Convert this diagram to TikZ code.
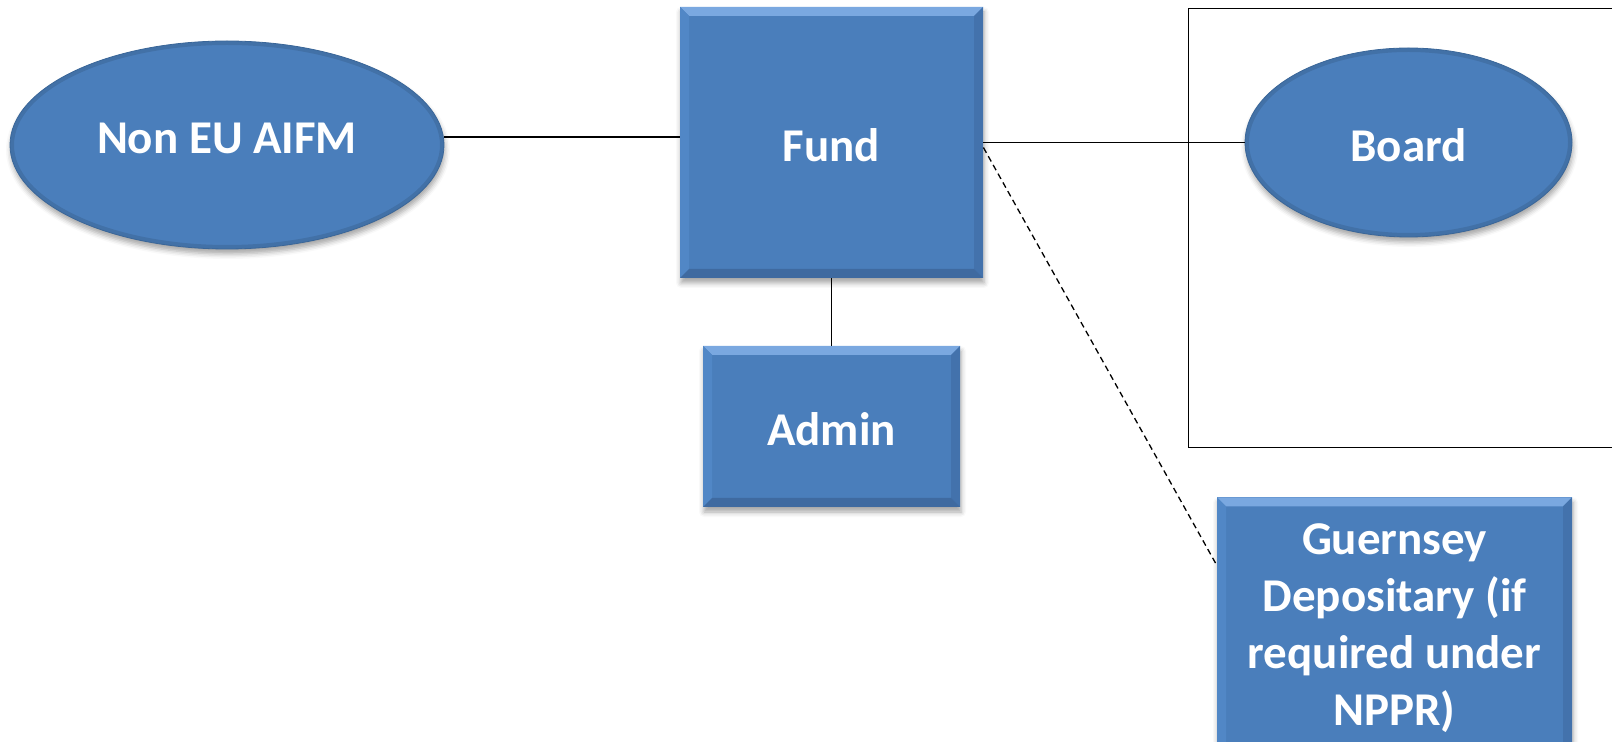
\documentclass[tikz,border=0pt]{standalone}
\usepackage{fontspec}
\setmainfont{Carlito}
\usetikzlibrary{shapes.geometric,shadows.blur,calc}

\definecolor{shapeblue}{HTML}{4A7EBB}
\definecolor{bevtop}{HTML}{7AA8E0}
\definecolor{bevleft}{HTML}{5187C6}
\definecolor{bevright}{HTML}{4372AC}
\definecolor{bevbottom}{HTML}{3F6AA0}
\definecolor{rimblue}{HTML}{3A6698}

\tikzset{
  softshadow/.style={blur shadow={shadow xshift=0.5pt, shadow yshift=-2.5pt,
      shadow blur radius=2.5pt, shadow opacity=35}},
  labeltext/.style={text=white, font=\fontsize{23.5}{28.5}\selectfont\bfseries,
      inner sep=0pt, align=center},
  % bevelled rectangle in the style of a presentation shape
  bluebox/.style={rectangle, fill=shapeblue, labeltext, softshadow,
    path picture={
      \fill[bevtop] (path picture bounding box.north west) -- (path picture bounding box.north east)
        -- ([shift={(-4.5pt,-4.5pt)}]path picture bounding box.north east)
        -- ([shift={(4.5pt,-4.5pt)}]path picture bounding box.north west) -- cycle;
      \fill[bevleft] (path picture bounding box.north west) -- (path picture bounding box.south west)
        -- ([shift={(4.5pt,4.5pt)}]path picture bounding box.south west)
        -- ([shift={(4.5pt,-4.5pt)}]path picture bounding box.north west) -- cycle;
      \fill[bevright] (path picture bounding box.north east) -- (path picture bounding box.south east)
        -- ([shift={(-4.5pt,4.5pt)}]path picture bounding box.south east)
        -- ([shift={(-4.5pt,-4.5pt)}]path picture bounding box.north east) -- cycle;
      \fill[bevbottom] (path picture bounding box.south west) -- (path picture bounding box.south east)
        -- ([shift={(-4.5pt,4.5pt)}]path picture bounding box.south east)
        -- ([shift={(4.5pt,4.5pt)}]path picture bounding box.south west) -- cycle;
    }},
  % rounded blue ellipse with a darker rim
  blueoval/.style={ellipse, fill=shapeblue, draw=rimblue, line width=0.4pt,
    labeltext, softshadow,
    path picture={
      \draw[black, opacity=0.10, line width=4pt]
        (path picture bounding box.center) ellipse
        [x radius={0.5*\pgfkeysvalueof{/pgf/minimum width}}, y radius={0.5*\pgfkeysvalueof{/pgf/minimum height}}];
    }},
  singleline/.style={text height=19pt, text depth=0pt},
  link/.style={black, line width=0.65pt},
  dashlink/.style={black, line width=0.65pt, dash pattern=on 3pt off 2pt},
}

\begin{document}
\begin{tikzpicture}[x=0.5pt, y=-0.5pt]
  \useasboundingbox (0,0) rectangle (1612,742);
  \clip (0,0) rectangle (1612,742);

  % frame around the board
  \node[draw=black, line width=0.65pt, rectangle, minimum width=218.5pt, minimum height=219.5pt,
        anchor=north west, inner sep=0pt] (frame) at (1188,8) {};

  \node[blueoval, minimum width=217pt, minimum height=104pt, text depth=7pt] (aifm) at (227,145) {Non EU AIFM};
  \node[bluebox, singleline, minimum width=151.5pt, minimum height=135.5pt] (fund) at (831.5,142.5) {Fund};
  \node[bluebox, singleline, minimum width=128.5pt, minimum height=80.5pt] (admin) at (831.5,426.5) {Admin};
  \node[blueoval, singleline, minimum width=163.5pt, minimum height=94.5pt] (board) at (1408.5,142.5) {Board};
  \node[bluebox, minimum width=177.5pt, minimum height=131pt, anchor=north] (guern) at (1394.5,497)
    {Guernsey\\Depositary (if\\required under\\NPPR)};

  % connectors
  \draw[link] ($(aifm.east)+(0,-8)$) -- ($(fund.west)+(0,-5.5)$);
  \draw[link] (fund.east) -- (board.west);
  \draw[link] (fund.south) -- (admin.north);
  \draw[dashlink] ($(fund.east)+(0,5)$) -- ($(guern.north west)+(0,68)$);
\end{tikzpicture}
\end{document}
